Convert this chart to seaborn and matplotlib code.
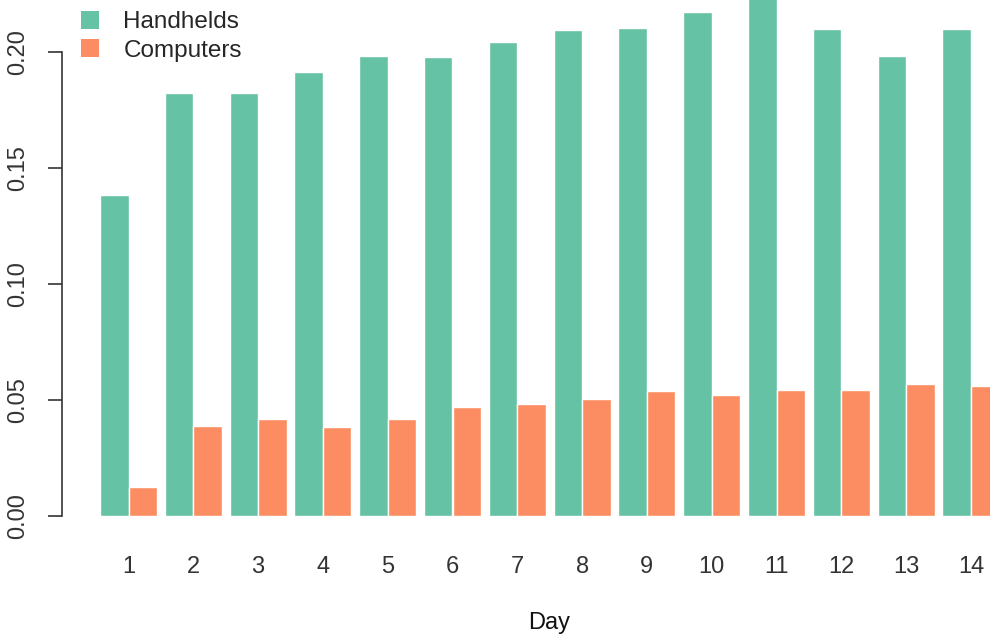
import matplotlib
matplotlib.use("Agg")
import matplotlib.pyplot as plt
import matplotlib.patches as mpatches
import numpy as np
import pandas as pd
import seaborn as sns

days = [str(d) for d in range(1, 15)]
handhelds = [0.1384, 0.1823, 0.1823, 0.1914, 0.1983, 0.1978, 0.2043,
             0.2095, 0.2103, 0.2172, 0.2260, 0.2099, 0.1983, 0.2099]
computers = [0.0127, 0.0388, 0.0418, 0.0382, 0.0419, 0.0468, 0.0481,
             0.0506, 0.0539, 0.0522, 0.0543, 0.0542, 0.0568, 0.0560]
devices = ["Handhelds", "Computers"]
colors = ["#66c2a5", "#fc8d62"]

df = pd.DataFrame({
    "Day": days * 2,
    "share": handhelds + computers,
    "Device": [devices[0]] * len(days) + [devices[1]] * len(days),
})

sns.set_style("white")
plt.rcParams["font.family"] = ["Liberation Sans", "DejaVu Sans"]

fig = plt.figure(figsize=(9.9, 6.39), dpi=100)
W, H = 990, 639
ax = fig.add_axes([62 / W, (H - 516) / H, (990 - 62) / W, 516 / H])

sns.barplot(data=df, x="Day", y="share", hue="Device", palette=colors,
            width=0.88, edgecolor="white", linewidth=1, saturation=1,
            legend=False, ax=ax)

ax.set_ylim(0, 516 / 2320)
ax.set_xlim((62 - 128.5) / 64.8, (990 - 128.5) / 64.8)

for s in ["top", "right", "bottom"]:
    ax.spines[s].set_visible(False)
ax.spines["left"].set_bounds(0, 0.20)
ax.spines["left"].set_color("#333333")
ax.spines["left"].set_linewidth(1.2)

ax.set_yticks([0, 0.05, 0.10, 0.15, 0.20])
ax.set_yticklabels(["0.00", "0.05", "0.10", "0.15", "0.20"])
ax.tick_params(axis="y", length=10, width=1.2, color="#333333", pad=14,
               labelsize=17, labelcolor="#333333", direction="out", left=True)
plt.setp(ax.get_yticklabels(), rotation=90, va="center")
ax.tick_params(axis="x", length=0, pad=29, labelsize=17, labelcolor="#333333")

ax.set_xlabel("Day", fontsize=17, color="#111111")
ax.xaxis.set_label_coords((549 - 62) / 928, -(623 - 516) / 516)
ax.xaxis.label.set_va("center")
ax.set_ylabel("")

handles = [mpatches.Patch(facecolor=c, edgecolor="none") for c in colors]
fig.legend(handles, devices, loc="upper left",
           bbox_to_anchor=(71 / W, 1.0 - 1 / H), frameon=False,
           fontsize=17.5, handlelength=0.75, handleheight=0.75,
           handletextpad=1.0, labelspacing=0.25, borderaxespad=0)

fig.savefig("out.png", dpi=100)
